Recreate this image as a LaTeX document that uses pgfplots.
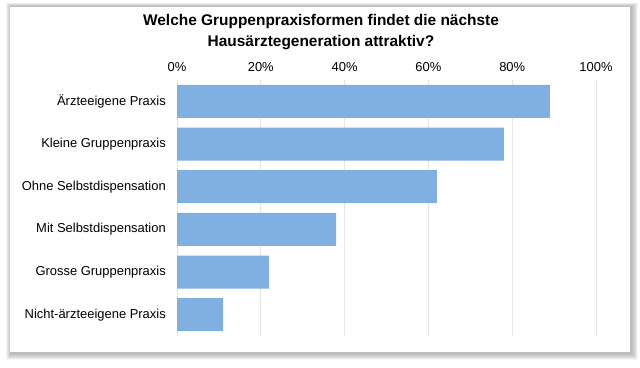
\documentclass[border=0pt]{standalone}
\usepackage{pgfplots}
\pgfplotsset{compat=1.18}
\usepackage{fontspec}
\setmainfont{Liberation Sans}
\definecolor{barblue}{HTML}{80B0E2}
\definecolor{gridgray}{HTML}{E6E6E6}
\begin{document}
\begin{tikzpicture}[x=1bp,y=1bp]
\useasboundingbox (0,0) rectangle (640,367);
\fill[white] (0,0) rectangle (640,367);
\foreach \i in {1,...,8} {
  \fill[black,opacity=0.035] ({10-\i*0.6+1},{15-\i*0.9-1}) rectangle ({630+\i*0.9+1},{360+\i*0.5});
}
\fill[white] (10,15) rectangle (630,360);
\node[font=\fontsize{15.5}{21}\selectfont\bfseries, align=center] at (321,335)
  {Welche Gruppenpraxisformen findet die nächste\\Hausärztegeneration attraktiv?};
\begin{axis}[
  at={(177bp,31bp)}, anchor=south west,
  width=419bp, height=256bp, scale only axis,
  xbar, bar width=33bp,
  xmin=0, xmax=100, ymin=-0.5, ymax=5.5,
  axis line style={draw=none},
  major tick length=0pt,
  xtick={0,20,40,60,80,100},
  xticklabels={0\%,20\%,40\%,60\%,80\%,100\%},
  xticklabel pos=upper,
  xticklabel style={font=\fontsize{13}{15}\selectfont, inner sep=0pt, anchor=base, yshift=8.5bp},
  ytick={0,1,2,3,4,5},
  yticklabels={Nicht-ärzteeigene Praxis,Grosse Gruppenpraxis,Mit Selbstdispensation,Ohne Selbstdispensation,Kleine Gruppenpraxis,Ärzteeigene Praxis},
  yticklabel style={font=\fontsize{13}{15}\selectfont, inner sep=0pt, anchor=east, xshift=-11bp},
  xmajorgrids, grid style={gridgray, line width=0.7bp},
  clip=false,
]
\addplot[fill=barblue, draw=none] coordinates {
  (11,0) (22,1) (38,2) (62,3) (78,4) (89,5)
};
\end{axis}
\end{tikzpicture}
\end{document}
